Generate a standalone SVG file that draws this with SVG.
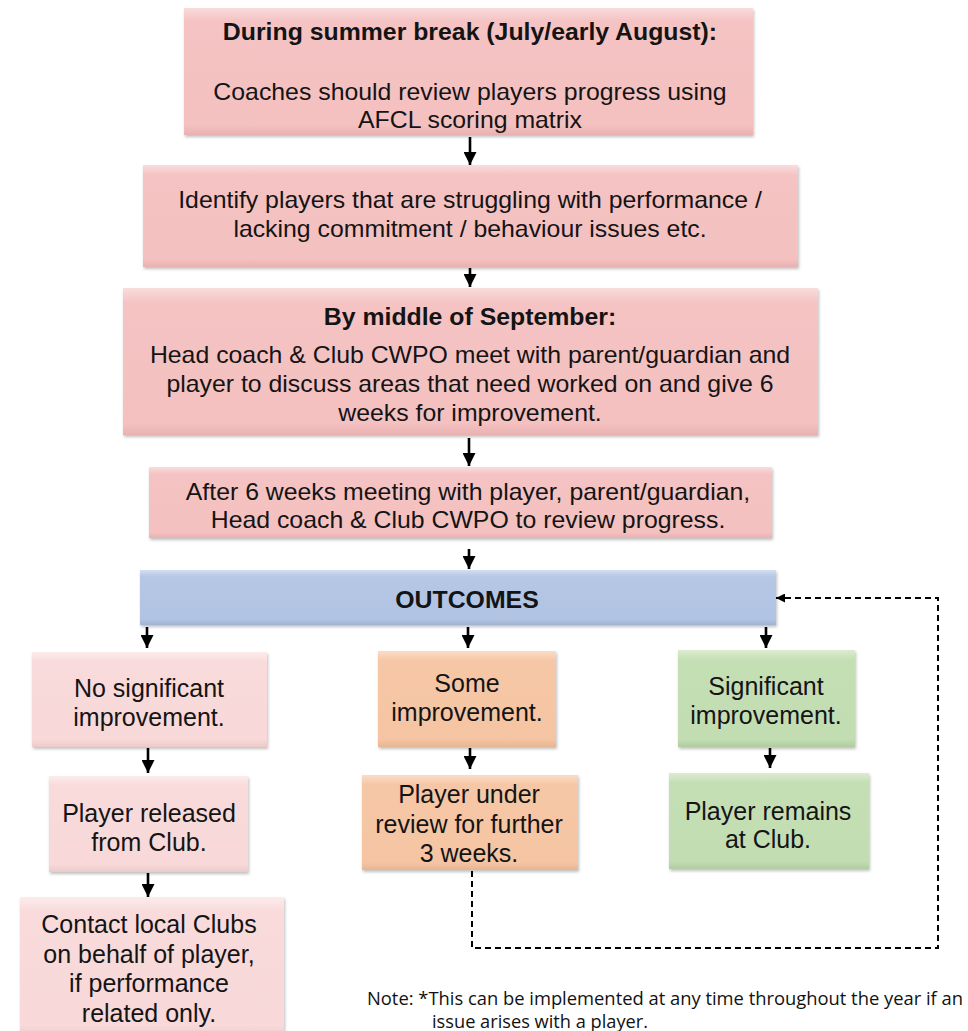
<svg xmlns="http://www.w3.org/2000/svg" width="968" height="1031" viewBox="0 0 968 1031">
<defs>
<style>
.t{font-family:"Liberation Sans",Arial,sans-serif;font-size:25px;fill:#141414;text-anchor:middle}
.tt{font-family:"Liberation Sans",Arial,sans-serif;font-size:23px;fill:#141414;text-anchor:middle}
.b{font-weight:bold}
.note{font-family:"Open Sans","Liberation Sans",sans-serif;font-size:18.5px;fill:#111}
.box{filter:url(#sh)}
.ar{stroke:#000;stroke-width:2.6;fill:none;marker-end:url(#ah)}
.dash{stroke:#000;stroke-width:2;fill:none;stroke-dasharray:6 4;marker-end:url(#ah2)}
</style>
<linearGradient id="gp" x1="0" y1="0" x2="0" y2="1">
<stop offset="0" stop-color="#f9dcdc"/><stop offset="0.1" stop-color="#f5c3c3"/><stop offset="0.92" stop-color="#f4c0c0"/><stop offset="1" stop-color="#e9b2b2"/>
</linearGradient>
<linearGradient id="gl" x1="0" y1="0" x2="0" y2="1">
<stop offset="0" stop-color="#fcecec"/><stop offset="0.1" stop-color="#f9dbdb"/><stop offset="0.92" stop-color="#f8d8d8"/><stop offset="1" stop-color="#edcaca"/>
</linearGradient>
<linearGradient id="go" x1="0" y1="0" x2="0" y2="1">
<stop offset="0" stop-color="#fbdcc6"/><stop offset="0.1" stop-color="#f6c7a6"/><stop offset="0.92" stop-color="#f5c5a3"/><stop offset="1" stop-color="#e6b592"/>
</linearGradient>
<linearGradient id="gg" x1="0" y1="0" x2="0" y2="1">
<stop offset="0" stop-color="#dcecd0"/><stop offset="0.1" stop-color="#c5dfb5"/><stop offset="0.92" stop-color="#c3ddb3"/><stop offset="1" stop-color="#b2cca2"/>
</linearGradient>
<linearGradient id="gb" x1="0" y1="0" x2="0" y2="1">
<stop offset="0" stop-color="#d3dff2"/><stop offset="0.12" stop-color="#b5c7e5"/><stop offset="0.9" stop-color="#b1c3e2"/><stop offset="1" stop-color="#9fb2d2"/>
</linearGradient>
<filter id="sh" x="-5%" y="-5%" width="110%" height="115%">
<feDropShadow dx="1" dy="2" stdDeviation="1.5" flood-color="#000" flood-opacity="0.25"/>
</filter>
<marker id="ah" viewBox="0 0 10 10" refX="10" refY="5" markerWidth="13" markerHeight="13" markerUnits="userSpaceOnUse" orient="auto">
<path d="M0,0 L10,5 L0,10 z" fill="#000"/>
</marker>
<marker id="ah2" viewBox="0 0 10 10" refX="10" refY="5" markerWidth="9" markerHeight="9" markerUnits="userSpaceOnUse" orient="auto">
<path d="M0,0 L10,5 L0,10 z" fill="#000"/>
</marker>
</defs>
<rect width="968" height="1031" fill="#fff"/>

<g id="connectors">
<line class="ar" x1="470" y1="137" x2="470" y2="165"/>
<line class="ar" x1="470" y1="268" x2="470" y2="287"/>
<line class="ar" x1="469" y1="438" x2="469" y2="466"/>
<line class="ar" x1="469" y1="549" x2="469" y2="569"/>
<line class="ar" x1="147" y1="627" x2="147" y2="648"/>
<line class="ar" x1="468" y1="627" x2="468" y2="648"/>
<line class="ar" x1="766" y1="627" x2="766" y2="648"/>
<line class="ar" x1="148" y1="748" x2="148" y2="773"/>
<line class="ar" x1="148" y1="873" x2="148" y2="897"/>
<line class="ar" x1="470" y1="748" x2="470" y2="769"/>
<line class="ar" x1="770" y1="748" x2="770" y2="768"/>
<path class="dash" d="M472,871 V948 H938 V598 H776"/>
</g>

<g id="n1">
<rect class="box" x="184" y="8" width="569" height="127" fill="url(#gp)"/>
<text class="tt b" transform="translate(470,40) scale(1.08,1)">During summer break (July/early August):</text>
<text class="tt" transform="translate(470,100) scale(1.08,1)">Coaches should review players progress using</text>
<text class="tt" transform="translate(470,128) scale(1.08,1)">AFCL scoring matrix</text>
</g>
<g id="n2">
<rect class="box" x="143" y="165" width="655" height="102" fill="url(#gp)"/>
<text class="tt" transform="translate(470,208) scale(1.08,1)">Identify players that are struggling with performance /</text>
<text class="tt" transform="translate(470,237) scale(1.08,1)">lacking commitment / behaviour issues etc.</text>
</g>
<g id="n3">
<rect class="box" x="123" y="288" width="695" height="147" fill="url(#gp)"/>
<text class="tt b" transform="translate(470,325) scale(1.08,1)">By middle of September:</text>
<text class="tt" transform="translate(470,363) scale(1.08,1)">Head coach &amp; Club CWPO meet with parent/guardian and</text>
<text class="tt" transform="translate(470,392) scale(1.08,1)">player to discuss areas that need worked on and give 6</text>
<text class="tt" transform="translate(470,421) scale(1.08,1)">weeks for improvement.</text>
</g>
<g id="n4">
<rect class="box" x="149" y="467" width="623" height="71" fill="url(#gp)"/>
<text class="tt" transform="translate(468,500) scale(1.08,1)">After 6 weeks meeting with player, parent/guardian,</text>
<text class="tt" transform="translate(468,528) scale(1.08,1)">Head coach &amp; Club CWPO to review progress.</text>
</g>
<g id="outcomes">
<rect class="box" x="140" y="570" width="636" height="55" fill="url(#gb)"/>
<text class="tt b" transform="translate(467,608) scale(1.08,1)">OUTCOMES</text>
</g>

<g id="a1">
<rect class="box" x="32" y="652" width="235" height="95" fill="url(#gl)"/>
<text class="t" x="149" y="697">No significant</text>
<text class="t" x="149" y="726">improvement.</text>
</g>
<g id="a2">
<rect class="box" x="49" y="776" width="199" height="96" fill="url(#gl)"/>
<text class="t" x="149" y="822">Player released</text>
<text class="t" x="149" y="851">from Club.</text>
</g>
<g id="a3">
<rect class="box" x="20" y="897" width="264" height="140" fill="url(#gl)"/>
<text class="t" x="149" y="933">Contact local Clubs</text>
<text class="t" x="149" y="963">on behalf of player,</text>
<text class="t" x="149" y="992">if performance</text>
<text class="t" x="149" y="1022">related only.</text>
</g>

<g id="b1">
<rect class="box" x="378" y="651" width="178" height="96" fill="url(#go)"/>
<text class="t" x="467" y="692">Some</text>
<text class="t" x="467" y="721">improvement.</text>
</g>
<g id="b2">
<rect class="box" x="362" y="775" width="216" height="95" fill="url(#go)"/>
<text class="t" x="469" y="803">Player under</text>
<text class="t" x="469" y="833">review for further</text>
<text class="t" x="469" y="862">3 weeks.</text>
</g>

<g id="c1">
<rect class="box" x="678" y="650" width="177" height="97" fill="url(#gg)"/>
<text class="t" x="766" y="695">Significant</text>
<text class="t" x="766" y="724">improvement.</text>
</g>
<g id="c2">
<rect class="box" x="669" y="773" width="200" height="96" fill="url(#gg)"/>
<text class="t" x="768" y="820">Player remains</text>
<text class="t" x="768" y="848">at Club.</text>
</g>

<g id="note">
<text class="note" x="367" y="1005" textLength="596" lengthAdjust="spacingAndGlyphs">Note: *This can be implemented at any time throughout the year if an</text>
<text class="note" x="432" y="1028" textLength="216" lengthAdjust="spacingAndGlyphs">issue arises with a player.</text>
</g>
</svg>
